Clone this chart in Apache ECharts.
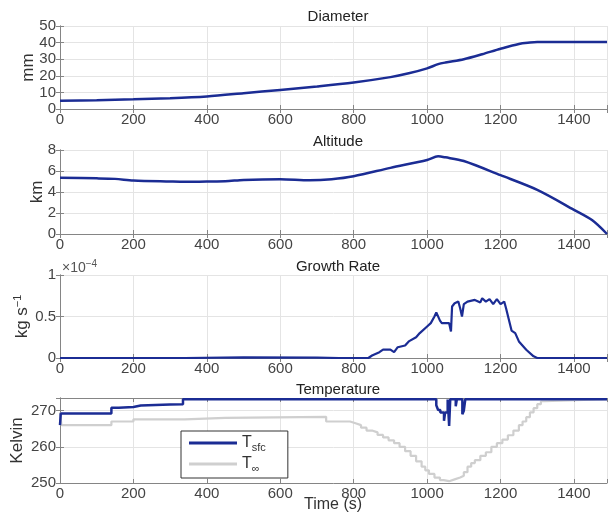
<!DOCTYPE html>
<html>
<head>
<meta charset="utf-8">
<script src="https://cdn.jsdelivr.net/npm/echarts@6/dist/echarts.min.js"></script>
<style>html,body{margin:0;padding:0;background:#fff}#c{width:612px;height:516px}</style>
</head>
<body>
<div id="c"></div>
<script>
// ---- data ----
var panelTitles = ['Diameter', 'Altitude', 'Growth Rate', 'Temperature'];
var xTicks = [0, 200, 400, 600, 800, 1000, 1200, 1400];

var diamT = [0, 100, 200, 300, 400, 500, 600, 700, 800, 900, 950, 1000, 1030, 1050, 1100, 1150, 1200, 1250, 1280, 1300, 1490];
var diamV = [5, 5.3, 5.8, 6.5, 7.6, 9.5, 11.5, 13.6, 16, 19.2, 21.5, 24.5, 27, 28, 30, 33, 36.3, 39.2, 40, 40.3, 40.3];

var altT = [0, 100, 150, 200, 300, 340, 400, 450, 500, 600, 680, 740, 800, 900, 1000, 1030, 1050, 1100, 1200, 1300, 1400, 1450, 1490];
var altV = [5.35, 5.3, 5.25, 5.1, 5.0, 4.97, 5.0, 5.02, 5.15, 5.22, 5.12, 5.22, 5.5, 6.3, 7.05, 7.4, 7.3, 6.95, 5.6, 4.2, 2.3, 1.3, 0];

// growth rate in units of 1e-4 kg/s
var growT = [0, 340, 500, 700, 760, 840, 850, 870, 880, 900, 910, 920, 940, 950, 970, 980, 1000, 1010, 1020, 1025, 1030, 1035, 1040, 1060, 1065, 1068, 1075, 1085, 1090, 1095, 1100, 1110, 1130, 1145, 1150, 1160, 1170, 1180, 1190, 1200, 1210, 1215, 1220, 1230, 1240, 1250, 1270, 1290, 1300, 1490];
var growV = [0, 0, 0.008, 0.005, 0, 0, 0.03, 0.07, 0.1, 0.1, 0.07, 0.13, 0.15, 0.2, 0.25, 0.3, 0.38, 0.42, 0.5, 0.55, 0.56, 0.45, 0.42, 0.42, 0.32, 0.62, 0.66, 0.68, 0.6, 0.5, 0.65, 0.68, 0.7, 0.67, 0.72, 0.68, 0.71, 0.65, 0.71, 0.65, 0.68, 0.6, 0.6, 0.33, 0.3, 0.2, 0.1, 0.02, 0, 0];

var tsfcT = [0, 2, 140, 160, 200, 220, 300, 335, 1025, 1030, 1036, 1046, 1049, 1056, 1058, 1060, 1063, 1078, 1081, 1096, 1100, 1104, 1490];
var tsfcV = [266, 269.2, 270.8, 271, 271.4, 271.7, 271.8, 273.15, 271.5, 270.2, 269.5, 267.2, 269.5, 273.1, 269.5, 265.8, 273.15, 271.2, 273.15, 269, 270, 273.15, 273.15];

var tinfT = [0, 4, 140, 200, 340, 450, 725, 790, 805, 820, 835, 850, 865, 880, 895, 910, 925, 940, 955, 970, 985, 995, 1005, 1020, 1035, 1045, 1060, 1075, 1090, 1100, 1110, 1120, 1130, 1145, 1160, 1175, 1190, 1205, 1220, 1235, 1250, 1260, 1270, 1280, 1290, 1300, 1310, 1320, 1490];
var tinfV = [269.5, 266, 267, 267.6, 268, 268.3, 267, 266.5, 266, 265.3, 264.5, 264, 263.3, 262.6, 261.8, 261, 260, 258.8, 257.5, 256, 254.5, 253.5, 252.5, 251.5, 250.8, 250.5, 251, 251.5, 252, 253, 254.5, 255.5, 256.3, 257.5, 258.5, 260, 261, 262, 263.2, 264.5, 266, 267, 268.2, 269.5, 270.7, 271.8, 272.6, 273.15, 273.15];

function zip(a, b) { return a.map(function (t, i) { return [t, b[i]]; }); }

// ---- layout ----
var FONT = "'Liberation Sans', Arial, sans-serif";
var BLUE = '#1b2c94';
var GRAY = '#cfcfcf';
var grids = [
  { top: 26, height: 83, tTop: 4 },
  { top: 150, height: 84, tTop: 129 },
  { top: 275, height: 83, tTop: 254 },
  { top: 398, height: 85, tTop: 377 }
];
var yCfg = [
  { min: 0, max: 50, interval: 10, name: 'mm', gap: 23 },
  { min: 0, max: 8, interval: 2, name: 'km', gap: 14 },
  { min: 0, max: 1, interval: 0.5, name: 'kg s{sup|\u22121}', gap: 28 },
  { min: 250, max: 273.5, interval: 10, name: 'Kelvin', gap: 34 }
];

var option = { animation: false, grid: [], xAxis: [], yAxis: [], series: [], title: [] };

grids.forEach(function (g, i) {
  option.grid.push({ left: 60, right: 5, top: g.top, height: g.height, containLabel: false, outerBoundsMode: 'none' });
  option.title.push({
    text: panelTitles[i], left: 333, top: g.tTop, textAlign: 'center',
    textStyle: { fontFamily: FONT, fontSize: 15, fontWeight: 'normal', color: '#222' }
  });
  var axisLine = { show: true, lineStyle: { color: '#858585', width: 1 } };
  var tick = { show: true, inside: true, length: 4, lineStyle: { color: '#858585' } };
  option.xAxis.push({
    type: 'value', gridIndex: i, min: 0, max: 1490, interval: 200, position: 'bottom',
    axisLine: axisLine, axisTick: tick,
    axisLabel: { margin: 3, fontFamily: FONT, fontSize: 15, color: '#444',
      formatter: function (v) { return v % 200 === 0 ? String(v) : ''; } },
    splitLine: { show: true, lineStyle: { color: '#e4e4e4', width: 1 } }
  });
  option.xAxis.push({
    type: 'value', gridIndex: i, min: 0, max: 1490, interval: 200, position: 'top',
    axisLine: axisLine, axisTick: tick, axisLabel: { show: false }, splitLine: { show: false }
  });
  var yc = yCfg[i];
  option.yAxis.push({
    type: 'value', gridIndex: i, min: yc.min, max: yc.max, interval: yc.interval, position: 'left',
    axisLine: axisLine, axisTick: tick,
    axisLabel: { margin: 4, fontFamily: FONT, fontSize: 15, color: '#444',
      formatter: function (v) { return (Math.abs(v / yc.interval - Math.round(v / yc.interval)) < 1e-9) ? String(v) : ''; } },
    splitLine: { show: true, lineStyle: { color: '#e4e4e4', width: 1 } },
    name: yc.name, nameLocation: 'middle', nameRotate: 90, nameGap: yc.gap, nameMoveOverlap: false,
    nameTextStyle: { fontFamily: FONT, fontSize: 17, color: '#333',
      rich: { sup: { fontSize: 11, color: '#333', fontFamily: FONT, padding: [0, 0, 9, 0] } } }
  });
  option.yAxis.push({
    type: 'value', gridIndex: i, min: yc.min, max: yc.max, interval: yc.interval, position: 'right',
    axisLine: axisLine, axisTick: tick, axisLabel: { show: false }, splitLine: { show: false }
  });
});

option.series.push({ type: 'line', xAxisIndex: 0, yAxisIndex: 0, data: zip(diamT, diamV), smooth: 0.3,
  showSymbol: false, lineStyle: { color: BLUE, width: 2.5 }, itemStyle: { color: BLUE } });
option.series.push({ type: 'line', xAxisIndex: 2, yAxisIndex: 2, data: zip(altT, altV), smooth: 0.3,
  showSymbol: false, lineStyle: { color: BLUE, width: 2.5 }, itemStyle: { color: BLUE } });
option.series.push({ type: 'line', xAxisIndex: 4, yAxisIndex: 4, data: zip(growT, growV),
  showSymbol: false, lineStyle: { color: BLUE, width: 2.2 }, itemStyle: { color: BLUE } });
option.series.push({ name: 'Tinf', type: 'line', xAxisIndex: 6, yAxisIndex: 6, data: zip(tinfT, tinfV), step: 'end',
  showSymbol: false, lineStyle: { color: GRAY, width: 2.2 }, itemStyle: { color: GRAY }, z: 2 });
option.series.push({ name: 'Tsfc', type: 'line', xAxisIndex: 6, yAxisIndex: 6, data: zip(tsfcT, tsfcV), step: 'end',
  showSymbol: false, lineStyle: { color: BLUE, width: 2.5 }, itemStyle: { color: BLUE }, z: 3 });

option.legend = {
  data: ['Tsfc', 'Tinf'], orient: 'vertical', left: 181, top: 431,
  itemWidth: 48, itemHeight: 3, icon: 'rect', itemGap: 3,
  padding: [4, 22, 4, 8], borderColor: '#333', borderWidth: 1, backgroundColor: '#fff',
  formatter: function (n) { return n === 'Tsfc' ? 'T{sub|sfc}' : 'T{sub|\u221e}'; },
  textStyle: { fontFamily: FONT, fontSize: 16, color: '#333',
    rich: { sub: { fontSize: 11, color: '#333', fontFamily: FONT, padding: [9, 0, 0, 0] } } }
};

option.graphic = [
  { type: 'text', left: 62, top: 259, style: { text: '\u00d710{sup|\u22124}', fontFamily: FONT, fontSize: 14, fill: '#555',
    rich: { sup: { fontSize: 10, fill: '#555', fontFamily: FONT, padding: [0, 0, 8, 0] } } } },
  { type: 'text', x: 333, y: 505, style: { text: 'Time (s)', fontFamily: FONT, fontSize: 16, fill: '#333',
    align: 'center', verticalAlign: 'middle' } }
];

var chart = echarts.init(document.getElementById('c'), null, { renderer: 'canvas' });
chart.setOption(option);
</script>
</body>
</html>
